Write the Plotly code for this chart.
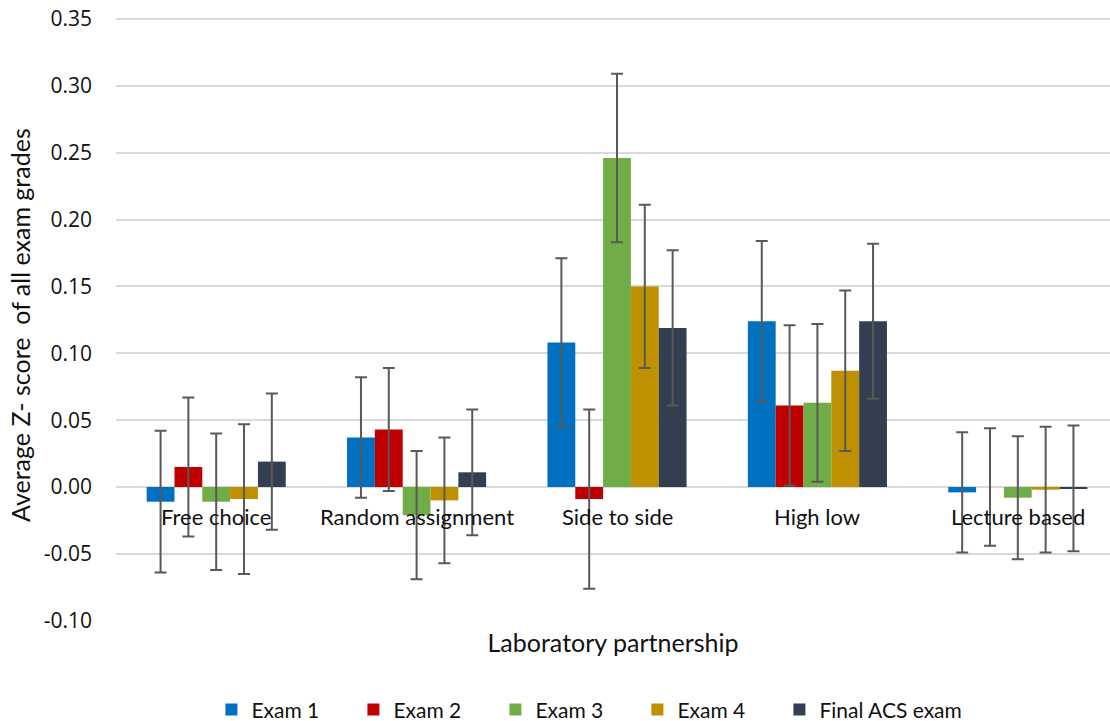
import plotly.graph_objects as go

categories = ["Free choice", "Random assignment", "Side to side", "High low", "Lecture based"]
series_names = ["Exam 1", "Exam 2", "Exam 3", "Exam 4", "Final ACS exam"]
colors = ["#0070C0", "#C00000", "#70AD47", "#BF9000", "#333F50"]

exam1 = [-0.011, 0.037, 0.108, 0.124, -0.004]
exam2 = [0.015, 0.043, -0.009, 0.061, 0.000]
exam3 = [-0.011, -0.021, 0.246, 0.063, -0.008]
exam4 = [-0.009, -0.010, 0.150, 0.087, -0.002]
final_acs = [0.019, 0.011, 0.119, 0.124, -0.001]

err1 = [0.053, 0.045, 0.063, 0.060, 0.045]
err2 = [0.052, 0.046, 0.067, 0.060, 0.044]
err3 = [0.051, 0.048, 0.063, 0.059, 0.046]
err4 = [0.056, 0.047, 0.061, 0.060, 0.047]
err5 = [0.051, 0.047, 0.058, 0.058, 0.047]

ytick_vals = [-0.10, -0.05, 0.00, 0.05, 0.10, 0.15, 0.20, 0.25, 0.30, 0.35]
ytick_text = ["-0.10", "-0.05", "0.00", "0.05", "0.10", "0.15", "0.20", "0.25", "0.30", "0.35"]

values = [exam1, exam2, exam3, exam4, final_acs]
errors = [err1, err2, err3, err4, err5]

FONT = "Lato"
TXT = "#111111"

fig = go.Figure()
for i, (name, vals, errs, col) in enumerate(zip(series_names, values, errors, colors)):
    fig.add_trace(go.Bar(
        name=name, x=categories, y=vals, marker_color=col,
        marker_line_width=0,
        legend="legend2" if i == len(series_names) - 1 else "legend",
        error_y=dict(type="data", array=errs, visible=True,
                     color="#595959", thickness=2, width=6),
    ))

for cat in categories:
    fig.add_annotation(x=cat, y=0, xref="x", yref="y", text=cat,
                       showarrow=False, yanchor="top", yshift=-14,
                       font=dict(family=FONT, size=22, color=TXT))

# y-axis title
fig.add_annotation(x=-0.0966, y=0.49, xref="paper", yref="paper",
                   text="Average Z- score  of all exam grades", textangle=-90,
                   showarrow=False, xanchor="center", yanchor="middle",
                   font=dict(family=FONT, size=25, color=TXT))

legend_common = dict(orientation="h", yanchor="middle", y=-0.1473,
                     xanchor="left", font=dict(family=FONT, size=21, color=TXT),
                     bgcolor="rgba(0,0,0,0)", traceorder="normal")

LEG_X = 0.096

fig.update_layout(
    width=1110, height=721,
    margin=dict(l=116, r=0, t=17, b=100, autoexpand=False),
    paper_bgcolor="white", plot_bgcolor="white",
    barmode="group", bargap=0.306, bargroupgap=0,
    font=dict(family=FONT, color=TXT),
    legend=dict(x=LEG_X, entrywidth=97, entrywidthmode="pixels", **legend_common),
    legend2=dict(x=LEG_X + 4 * 142 / 994, **legend_common),
    xaxis=dict(range=[-0.5, 4.46], showticklabels=False, showline=False,
               showgrid=False, zeroline=False, automargin=False,
               title=dict(text="Laboratory partnership", standoff=13,
                          font=dict(family=FONT, size=25, color=TXT))),
    yaxis=dict(range=[-0.1002, 0.3515], tickvals=ytick_vals, ticktext=ytick_text,
               showgrid=True, gridcolor="#D9D9D9", gridwidth=1.5,
               zeroline=True, zerolinecolor="#D9D9D9", zerolinewidth=1.5,
               showline=False, ticklabelstandoff=23, automargin=False,
               ticklabeloverflow="allow",
               tickfont=dict(family="Open Sans", size=21, color=TXT)),
)

fig.write_html("out.html", config={"displayModeBar": False},
               post_script="document.body.style.margin='0';document.body.style.overflow='hidden';")
